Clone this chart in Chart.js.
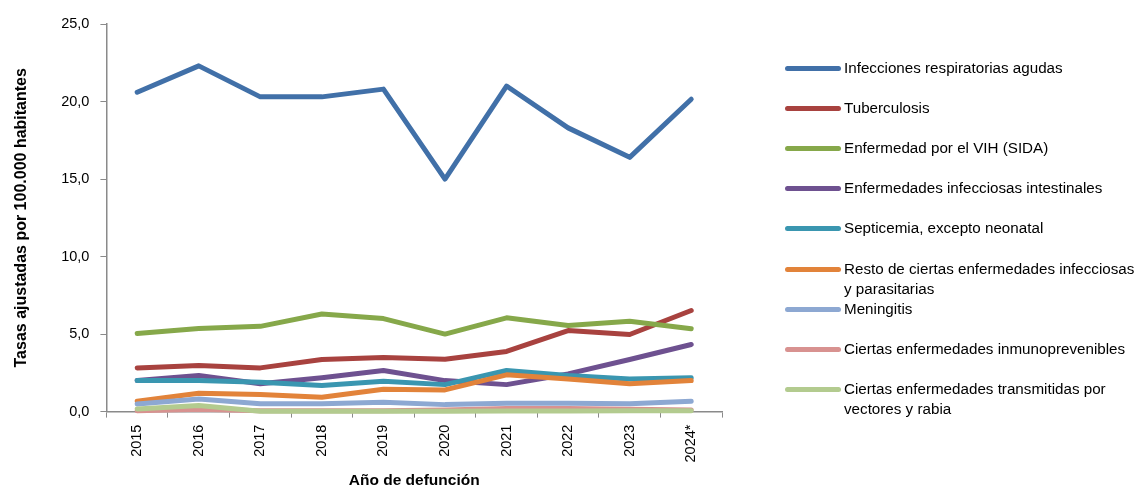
<!DOCTYPE html>
<html>
<head>
<meta charset="utf-8">
<script src="https://cdn.jsdelivr.net/npm/chart.js@4"></script>
<style>
  html, body { margin: 0; padding: 0; background: #fff; }
  #wrap { position: relative; width: 1137px; height: 489px; }
  #legend { position: absolute; left: 0; top: 0; font-family: "Liberation Sans", Arial, sans-serif; font-size: 15.2px; color: #000; }
  .item { position: absolute; left: 785px; width: 352px; display: flex; align-items: flex-start; }
  .sw { width: 56px; height: 5px; border-radius: 2.5px; margin-top: 8px; flex: none; }
  .txt { margin-left: 3px; line-height: 20px; width: 293px; }
</style>
</head>
<body>
<div id="wrap">
  <canvas id="chart" width="1137" height="489"></canvas>
  <div id="legend"></div>
</div>
<script>
// years of death (2024 provisional)
var years = ['2015', '2016', '2017', '2018', '2019', '2020', '2021', '2022', '2023', '2024*'];

// adjusted rates per 100.000 inhabitants
var respiratorias = [20.6, 22.3, 20.3, 20.3, 20.8, 15.0, 21.0, 18.3, 16.4, 20.15];
var tuberculosis = [2.82, 2.97, 2.82, 3.36, 3.49, 3.38, 3.88, 5.23, 4.97, 6.52];
var vih = [5.04, 5.36, 5.5, 6.3, 6.0, 5.0, 6.05, 5.55, 5.83, 5.34];
var intestinales = [2.0, 2.33, 1.79, 2.18, 2.65, 2.0, 1.74, 2.43, 3.36, 4.33];
var septicemia = [2.0, 2.0, 1.9, 1.68, 1.96, 1.74, 2.65, 2.33, 2.11, 2.18];
var resto = [0.67, 1.18, 1.1, 0.92, 1.44, 1.4, 2.37, 2.11, 1.79, 2.0];
var meningitis = [0.49, 0.82, 0.5, 0.5, 0.6, 0.45, 0.54, 0.54, 0.5, 0.67];
var inmunoprevenibles = [0.05, 0.15, 0.05, 0.05, 0.05, 0.1, 0.2, 0.2, 0.15, 0.1];
var vectores = [0.17, 0.39, 0.02, 0.02, 0.03, 0.03, 0.04, 0.04, 0.05, 0.06];

var names = [
  'Infecciones respiratorias agudas',
  'Tuberculosis',
  'Enfermedad por el VIH (SIDA)',
  'Enfermedades infecciosas intestinales',
  'Septicemia, excepto neonatal',
  'Resto de ciertas enfermedades infecciosas y parasitarias',
  'Meningitis',
  'Ciertas enfermedades inmunoprevenibles',
  'Ciertas enfermedades transmitidas por vectores y rabia'
];
var series = [respiratorias, tuberculosis, vih, intestinales, septicemia, resto, meningitis, inmunoprevenibles, vectores];
var colors = ['#4170A8', '#A8423F', '#86A84A', '#6E5190', '#3A96B0', '#E2833A', '#8DA8D2', '#D89290', '#B3CB8F'];

var fontFam = '"Liberation Sans", Arial, sans-serif';
var axisGrey = '#8a8a8a';

var datasets = series.map(function(vals, i) {
  return {
    label: names[i],
    data: vals,
    borderColor: colors[i],
    backgroundColor: colors[i],
    borderWidth: 5,
    tension: 0,
    pointRadius: 0,
    borderJoinStyle: 'round',
    borderCapStyle: 'round',
    clip: false,
    order: series.length - i // later series drawn on top, like the original
  };
});

var ctx = document.getElementById('chart').getContext('2d');
var myChart = new Chart(ctx, {
  type: 'line',
  data: { labels: years, datasets: datasets },
  options: {
    responsive: false,
    animation: false,
    layout: { padding: { left: 12, top: 24, right: 415, bottom: 0 } },
    plugins: { legend: { display: false }, tooltip: { enabled: false } },
    scales: {
      x: {
        offset: true,
        grid: { display: true, drawOnChartArea: false, drawTicks: true, tickLength: 6, color: axisGrey, offset: true },
        border: { display: true, color: axisGrey, width: 1.5 },
        ticks: { minRotation: 90, maxRotation: 90, color: '#000', font: { family: fontFam, size: 14.5 }, padding: 7 },
        title: { display: true, text: 'Año de defunción', color: '#000', font: { family: fontFam, size: 15.5, weight: 'bold', lineHeight: 1 }, padding: { top: 3, bottom: 1 } }
      },
      y: {
        min: 0,
        max: 25,
        ticks: {
          stepSize: 5,
          color: '#000',
          font: { family: fontFam, size: 14.5 },
          padding: 11,
          callback: function(v) { return v.toFixed(1).replace('.', ','); }
        },
        grid: { display: true, drawOnChartArea: false, drawTicks: true, tickLength: 6, color: axisGrey },
        border: { display: true, color: axisGrey, width: 1.5 },
        title: { display: true, text: 'Tasas ajustadas por 100.000 habitantes', color: '#000', font: { family: fontFam, size: 16, weight: 'bold' }, padding: { top: 0, bottom: 19 } }
      }
    }
  }
});

// legend on the right, one entry every ~40px
var legend = document.getElementById('legend');
names.forEach(function(name, i) {
  var item = document.createElement('div');
  item.className = 'item';
  item.style.top = (58 + i * 40.1) + 'px';
  var sw = document.createElement('div');
  sw.className = 'sw';
  sw.style.background = colors[i];
  var txt = document.createElement('div');
  txt.className = 'txt';
  txt.textContent = name;
  item.appendChild(sw);
  item.appendChild(txt);
  legend.appendChild(item);
});
</script>
</body>
</html>
